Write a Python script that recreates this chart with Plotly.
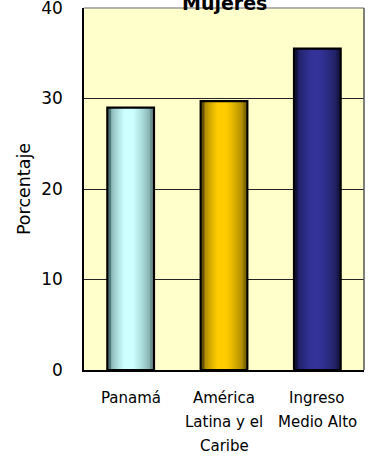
import plotly.graph_objects as go

# Data
categories = ["Panamá", "América Latina y el Caribe", "Ingreso Medio Alto"]
label_lines = [["Panamá"], ["América", "Latina y el", "Caribe"], ["Ingreso", "Medio Alto"]]
values = [29.0, 29.7, 35.5]
y_ticks = [0, 10, 20, 30, 40]

# Cylinder shading per bar: (left edge, highlight, right edge)
shades = [
    ((0x4f, 0x78, 0x78), (0xcc, 0xff, 0xff), (0x6c, 0x90, 0x90)),
    ((0x66, 0x52, 0x00), (0xff, 0xcc, 0x00), (0x80, 0x6a, 0x00)),
    ((0x12, 0x12, 0x3c), (0x33, 0x33, 0x99), (0x18, 0x18, 0x48)),
]

BAR_W = 0.5
HALF = BAR_W / 2
HIGHLIGHT = 0.45  # relative position of the light band across the bar
N_LAYERS = 24


def mix(a, b, t):
    return "rgb(%d,%d,%d)" % tuple(round(a[i] + (b[i] - a[i]) * t) for i in range(3))


fig = go.Figure()

# Nested overlaid bars, narrowing towards the highlight, give a rounded shading
c = -HALF + HIGHLIGHT * BAR_W
for k in range(N_LAYERS):
    t = k / (N_LAYERS - 1)
    left = -HALF + t * (c + HALF)
    right = HALF - t * (HALF - c)
    f = min(1.0, t ** 0.6 * 1.15)
    colors = []
    for (le, hi, re) in shades:
        edge = tuple((le[i] + re[i]) / 2 for i in range(3))
        colors.append(mix(edge, hi, f))
    fig.add_trace(go.Bar(
        x=categories, y=values,
        width=[max(right - left, 0.004)] * len(values),
        offset=[left] * len(values),
        marker=dict(color=colors, line=dict(width=0)),
        hoverinfo="skip", showlegend=False,
    ))

# Darker edge strips
for side in ("left", "right"):
    colors = [mix(s[0] if side == "left" else s[2], s[0] if side == "left" else s[2], 0) for s in shades]
    fig.add_trace(go.Bar(
        x=categories, y=values,
        width=[BAR_W * 0.08] * len(values),
        offset=[-HALF if side == "left" else HALF - BAR_W * 0.08] * len(values),
        marker=dict(color=colors, line=dict(width=0)),
        hoverinfo="skip", showlegend=False,
    ))

# Outline
fig.add_trace(go.Bar(
    x=categories, y=values,
    width=[BAR_W] * len(values), offset=[-HALF] * len(values),
    marker=dict(color="rgba(0,0,0,0)", line=dict(color="black", width=2.2)),
    showlegend=False,
))

font_family = "Tahoma, 'DejaVu Sans', sans-serif"

annotations = [dict(
    text="<b>Mujeres</b>", x=0.5, y=1, xref="paper", yref="paper",
    xanchor="center", yanchor="bottom", yshift=-8, showarrow=False,
    font=dict(size=19, family=font_family, color="black"),
)]
# Category labels, one annotation per line for wider line spacing
for cat, lines in zip(categories, label_lines):
    for i, line in enumerate(lines):
        annotations.append(dict(
            text=line, x=cat, y=0, xref="x", yref="paper",
            xanchor="center", yanchor="top", yshift=-17 - 24 * i,
            showarrow=False, font=dict(size=15, family=font_family, color="black"),
        ))

fig.update_layout(
    width=376, height=457,
    margin=dict(l=84, r=12, t=8, b=87),
    barmode="overlay",
    paper_bgcolor="white",
    plot_bgcolor="#ffffcc",
    font=dict(family=font_family, color="black"),
    showlegend=False,
    annotations=annotations,
)

fig.update_xaxes(
    type="category", showgrid=False, automargin=False,
    showline=True, linecolor="black", linewidth=1.5,
    ticks="", showticklabels=False,
)
fig.update_yaxes(
    range=[0, 40], tickvals=y_ticks, showgrid=True, automargin=False,
    gridcolor="#222", gridwidth=1,
    showline=True, linecolor="black", linewidth=1.5,
    ticks="", tickfont=dict(size=17), ticklabelstandoff=16,
    ticklabeloverflow="allow",
    zeroline=False,
    title=dict(text="Porcentaje", font=dict(size=17.5), standoff=6),
)

# Plot-area frame on the top and right
fig.add_shape(type="line", xref="paper", yref="paper", x0=0, x1=1, y0=1, y1=1,
              line=dict(color="#999999", width=1.5))
fig.add_shape(type="line", xref="paper", yref="paper", x0=1, x1=1, y0=0, y1=1,
              line=dict(color="#555555", width=1.5))

fig.write_html("out.html")
